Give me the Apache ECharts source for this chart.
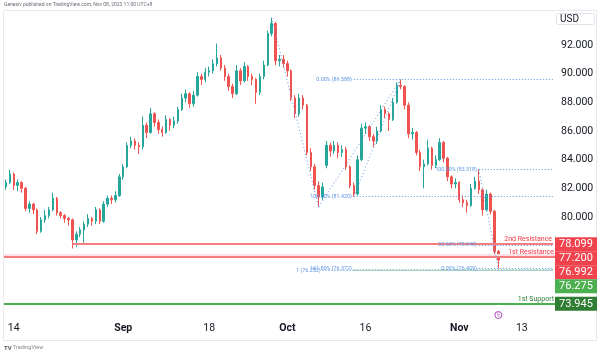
<!DOCTYPE html>
<html><head><meta charset="utf-8">
<script src="https://cdn.jsdelivr.net/npm/echarts@6/dist/echarts.min.js"></script>
<style>html,body{margin:0;padding:0;background:#fff}#c{width:600px;height:355px}</style>
</head><body><div id="c"></div>
<script>
// trading days shown on the time axis (two 12h candles per day)
const tradingDays = ['08-11','08-14','08-15','08-16','08-17','08-18','08-21','08-22','08-23','08-24','08-25',
 '08-28','08-29','08-30','08-31','09-01','09-04','09-05','09-06','09-07','09-08','09-11','09-12','09-13','09-14','09-15',
 '09-18','09-19','09-20','09-21','09-22','09-25','09-26','09-27','09-28','09-29','10-02','10-03','10-04','10-05','10-06',
 '10-09','10-10','10-11','10-12','10-13','10-16','10-17','10-18','10-19','10-20','10-23','10-24','10-25','10-26','10-27',
 '10-30','10-31','11-01','11-02','11-03','11-06','11-07','11-08','11-09','11-10','11-13','11-14','11-15','11-16','11-17'];
const halves = [' 00', ' 12'];
const visibleSlots = 141;

const tickDays = ['08-14','09-01','09-18','10-02','10-16','11-01','11-13'];
const tickText = ['14','Sep','18','Oct','16','Nov','13'];
const tickBold = [false,true,false,true,false,true,false];

const opens = [82.1,82.4,83.0,82.2,82.4,82.0,80.6,80.9,80.5,79.0,
 79.8,80.1,80.5,81.3,80.3,80.1,79.9,79.8,78.4,78.8,
 79.1,79.5,79.9,79.7,80.5,79.7,80.9,81.3,81.2,81.5,
 82.8,83.5,85.0,85.3,85.0,84.9,86.4,85.9,87.2,86.6,
 86.1,85.9,86.8,86.4,86.7,87.5,88.3,88.6,87.9,88.5,
 89.8,89.6,90.1,90.2,90.7,91.1,90.4,89.8,89.1,88.6,
 90.2,89.5,90.5,89.8,89.6,88.7,89.8,90.6,92.8,93.5,
 90.9,91.0,90.7,90.2,88.3,87.2,88.3,87.8,84.5,83.5,
 82.2,81.4,83.6,85.0,84.6,85.0,84.5,84.7,83.5,82.2,
 81.6,84.0,86.2,86.3,85.6,85.3,86.0,87.5,87.2,86.8,
 88.0,89.2,89.1,87.8,85.8,85.9,84.5,83.5,83.7,84.8,
 83.6,84.0,85.2,84.1,82.8,82.3,82.4,81.2,81.0,80.8,
 82.0,82.5,81.9,80.5,81.6,80.4,77.6];
const closes = [82.4,83.0,82.2,82.4,82.0,80.6,80.9,80.5,79.0,79.8,
 80.1,80.5,81.3,80.3,80.1,79.9,79.8,78.4,78.8,79.1,
 79.5,79.9,79.7,80.5,79.7,80.9,81.3,81.2,81.5,82.8,
 83.5,85.0,85.3,85.0,84.9,86.4,85.9,87.2,86.6,86.1,
 85.9,86.8,86.4,86.7,87.5,88.3,88.6,87.9,88.5,89.8,
 89.6,90.1,90.2,90.7,91.1,90.4,89.8,89.1,88.6,90.2,
 89.5,90.5,89.8,89.6,88.7,89.8,90.6,92.8,93.5,90.9,
 91.0,90.7,90.2,88.3,87.2,88.3,87.8,84.5,83.5,82.2,
 81.4,82.1,85.0,84.6,85.0,84.5,84.7,83.5,82.2,81.6,
 84.0,86.2,86.3,85.6,85.3,86.0,87.5,87.2,86.8,88.0,
 89.2,89.1,87.8,85.8,85.9,84.5,83.5,83.7,84.8,83.6,
 84.0,85.2,84.1,82.8,82.3,82.4,81.2,81.0,80.8,82.0,
 82.5,81.9,80.5,81.6,80.4,77.6,76.992];
const highs = [82.6,83.3,83.1,82.6,82.5,82.1,81.1,81.0,80.6,80.0,
 80.5,80.7,81.7,81.4,80.4,80.2,80.0,79.9,79.0,79.3,
 79.7,80.2,80.0,80.7,80.6,81.1,81.5,81.5,81.8,83.0,
 83.7,85.2,85.6,85.5,85.2,87.0,86.6,87.6,87.3,86.8,
 86.3,87.1,86.9,87.0,87.7,88.6,88.9,88.7,88.8,90.1,
 90.0,90.4,90.5,91.0,92.1,91.3,90.6,90.0,89.3,90.6,
 90.4,90.8,90.6,90.0,89.7,90.0,90.9,93.0,93.9,93.6,
 91.3,91.3,90.9,90.3,88.5,88.6,88.5,87.9,84.8,83.7,
 82.5,82.4,85.3,85.2,85.3,85.2,85.0,84.9,83.6,82.4,
 84.3,86.5,86.6,86.4,85.8,86.3,87.8,87.7,87.3,88.3,
 89.4,89.588,89.2,88.0,86.2,86.0,84.7,84.0,85.4,84.9,
 84.3,85.5,85.3,84.2,82.9,82.7,82.5,81.5,81.2,82.3,
 82.8,83.318,82.0,81.9,81.7,80.5,77.7];
const lows = [81.9,82.3,81.9,81.8,81.7,80.4,80.3,80.2,78.8,78.9,
 79.6,79.9,80.4,80.1,79.9,79.6,79.4,77.8,77.9,78.6,
 78.2,79.3,79.4,79.5,79.5,79.6,80.7,80.9,81.0,81.4,
 82.6,83.4,84.8,84.7,84.4,84.7,85.5,85.8,86.3,85.8,
 85.6,85.8,86.0,86.2,86.5,87.4,88.0,87.6,87.7,88.4,
 89.2,89.4,89.8,90.0,90.5,90.2,89.5,88.8,88.3,88.5,
 89.2,89.4,89.5,89.2,87.9,88.5,89.6,90.5,92.6,90.6,
 90.5,90.4,89.8,88.1,86.9,87.0,87.5,84.3,83.2,81.9,
 80.7,81.2,83.4,84.2,84.4,84.1,84.2,83.3,82.0,81.42,
 81.5,83.9,85.8,85.3,84.9,85.1,85.9,86.9,86.0,86.7,
 87.9,88.9,87.5,85.5,85.4,84.3,83.2,82.0,83.6,83.3,
 83.4,83.9,83.8,82.5,82.0,82.0,81.0,80.7,80.3,80.7,
 81.9,81.6,80.1,80.4,80.2,77.4,76.409];

// horizontal levels drawn by the author
const resistanceNames = ['2nd Resistance','1st Resistance'];
const resistanceValues = [78.099, 77.2];
const resistanceStart = [17, null];
const supportNames = ['1st Support'];
const supportValues = [73.945];

// fibonacci levels: label, value, starting candle index
const fibLabels = ['0.00% (89.588)','100.00% (81.420)','161.80% (76.372)','100.00% (83.318)','23.60% (78.040)','0.00% (76.409)','1 (76.252)'];
const fibValues = [89.588, 81.420, 76.372, 83.318, 78.040, 76.409, 76.252];
const fibStart = [89, 89, 89, 121, 121, 121, 81];

// dotted trend segments between swing points: [candle index, price]
const trendFrom = [[68, 93.9],[80, 80.7],[89, 81.42],[121, 83.318]];
const trendTo   = [[80, 80.7],[101, 89.588],[101, 89.588],[126, 76.409]];

// price badges on the scale
const badgeValues = [78.099, 77.200, 76.992, 76.275, 73.945];
const badgeColors = ['#f0434e','#f0434e','#f0434e','#4caf50','#2e7d32'];

const yTicks = [80, 82, 84, 86, 88, 90, 92];

// ---------------------------------------------------------------
const cats = [];
tradingDays.forEach(d => halves.forEach(h => cats.push(d + h)));
const categories = cats.slice(0, visibleSlots);
const lastCat = categories[categories.length - 1];
const candles = opens.map((o, i) => [o, closes[i], lows[i], highs[i]]);

const FONT = 'Roboto, "Noto Sans", sans-serif';
const blue = '#5b95e6';
const mark = [];

resistanceValues.forEach((v, k) => {
  const lbl = {show: true, position: 'insideEndTop', formatter: resistanceNames[k], color: '#f23645', fontSize: 7, fontFamily: FONT, distance: 1};
  const ls = {color: '#f77c80', width: 2, type: 'solid'};
  if (resistanceStart[k] === null) {
    mark.push({yAxis: v, label: lbl, lineStyle: ls});
  } else {
    mark.push([{coord: [categories[resistanceStart[k]], v], label: lbl, lineStyle: ls}, {coord: [lastCat, v]}]);
  }
});
// pale band above the 1st resistance line
mark.push({yAxis: resistanceValues[1] + 0.17, label: {show: false}, lineStyle: {color: '#fbe1e5', width: 2, type: 'solid'}});
supportValues.forEach((v, k) => {
  mark.push({yAxis: v, label: {show: true, position: 'insideEndTop', formatter: supportNames[k], color: '#2e7d32', fontSize: 7, fontFamily: FONT, distance: 1},
    lineStyle: {color: '#4caf50', width: 2, type: 'solid'}});
});
fibValues.forEach((v, k) => {
  const green = (v === 76.372);
  mark.push([{coord: [categories[fibStart[k]], v],
    label: {show: true, position: 'start', formatter: fibLabels[k], color: blue, fontSize: 5.3, fontFamily: FONT, distance: 2},
    lineStyle: {color: green ? '#6fb36f' : blue, width: 1, type: [1, 2]}},
    {coord: [lastCat, v]}]);
});
// green dotted line at 76.275
mark.push([{coord: [categories[89], badgeValues[3]], label: {show: false}, lineStyle: {color: '#8fc98f', width: 1, type: [1, 2]}}, {coord: [lastCat, badgeValues[3]]}]);
trendFrom.forEach((p, k) => {
  mark.push([{coord: [categories[p[0]], p[1]], label: {show: false}, lineStyle: {color: blue, width: 1, type: [1, 2.5]}},
    {coord: [categories[trendTo[k][0]], trendTo[k][1]]}]);
});

const chart = echarts.init(document.getElementById('c'), null, {renderer: 'canvas'});
chart.setOption({
  animation: false,
  backgroundColor: '#ffffff',
  textStyle: {fontFamily: FONT},
  grid: {left: 4, right: 45, top: 11, bottom: 37},
  xAxis: {
    type: 'category', data: categories, boundaryGap: true,
    axisLine: {show: false}, axisTick: {show: false}, splitLine: {show: false},
    axisLabel: {
      interval: (idx, val) => tickDays.some(d => val === d + ' 00'),
      formatter: (val) => {
        const k = tickDays.findIndex(d => val === d + ' 00');
        if (k < 0) return '';
        return tickBold[k] ? '{b|' + tickText[k] + '}' : tickText[k];
      },
      color: '#131722', fontSize: 10.5, margin: 5, fontFamily: FONT,
      rich: {b: {fontWeight: 'bold', fontSize: 10.5, color: '#131722', fontFamily: FONT}}
    }
  },
  yAxis: {
    type: 'value', position: 'right', min: 72.953, max: 94.372, scale: true,
    axisLine: {show: false}, axisTick: {show: false}, splitLine: {show: false},
    axisLabel: {customValues: yTicks, formatter: v => v.toFixed(3), color: '#131722', fontSize: 10.5, margin: 6, fontFamily: FONT}
  },
  series: [{
    type: 'candlestick', data: candles, barWidth: '50%',
    itemStyle: {color: '#26a69a', color0: '#ef5350', borderColor: '#26a69a', borderColor0: '#ef5350', borderWidth: 1},
    markLine: {silent: true, symbol: ['none', 'none'], animation: false, data: mark}
  }]
});

// badges on the price scale, stacked so they do not overlap
const g = [];
let prev = -1e9;
badgeValues.forEach((v, k) => {
  let y = chart.convertToPixel({yAxisIndex: 0}, v);
  y = Math.max(y, prev + 14);
  prev = y;
  g.push({type: 'rect', shape: {x: 555, y: y - 7, width: 42, height: 14}, style: {fill: badgeColors[k]}, z: 100});
  g.push({type: 'text', x: 576, y: y, style: {text: v.toFixed(3), fill: '#fff', font: '11px ' + FONT, textAlign: 'center', textVerticalAlign: 'middle'}, z: 101});
});
// frame, currency box, header, footer
g.push({type: 'rect', shape: {x: 3.5, y: 10.5, width: 593, height: 330}, style: {fill: null, stroke: '#e6e8ee', lineWidth: 1}, z: 0, silent: true});
g.push({type: 'rect', shape: {x: 556.5, y: 13.5, width: 38, height: 11, r: 2}, style: {fill: '#fff', stroke: '#e0e3eb', lineWidth: 1}, z: 100});
g.push({type: 'text', x: 560, y: 19, style: {text: 'USD', fill: '#131722', font: '10px ' + FONT, textVerticalAlign: 'middle'}, z: 101});
g.push({type: 'text', x: 4, y: 5, style: {text: 'Genesiv published on TradingView.com, Nov 08, 2023 11:00 UTC+8', fill: '#6a6d78', font: '5px ' + FONT, textVerticalAlign: 'middle'}});
g.push({type: 'text', x: 4, y: 348, style: {text: 'TV', fill: '#555', font: 'bold 6px ' + FONT, textVerticalAlign: 'middle'}});
g.push({type: 'text', x: 13, y: 348, style: {text: 'TradingView', fill: '#888', font: '5.5px ' + FONT, textVerticalAlign: 'middle'}});
g.push({type: 'circle', shape: {cx: chart.convertToPixel({xAxisIndex: 0}, categories[126]), cy: 315, r: 3.5}, style: {fill: '#fff', stroke: '#ab47bc', lineWidth: 1}});
g.push({type: 'text', x: chart.convertToPixel({xAxisIndex: 0}, categories[126]), y: 315, style: {text: 'ϟ', fill: '#ab47bc', font: '5px ' + FONT, textAlign: 'center', textVerticalAlign: 'middle'}});
chart.setOption({graphic: g});
</script>
</body></html>
